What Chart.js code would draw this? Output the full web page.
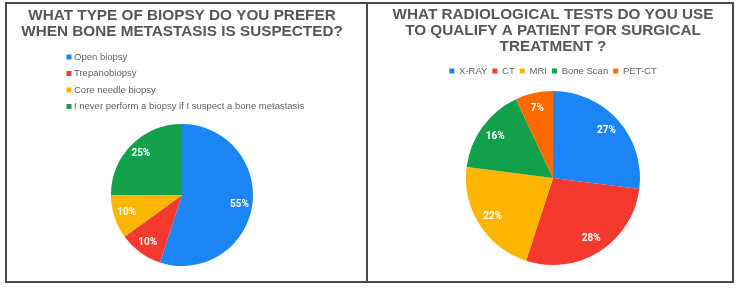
<!DOCTYPE html>
<html>
<head>
<meta charset="utf-8">
<script src="https://cdn.jsdelivr.net/npm/chart.js@4.4.0/dist/chart.umd.min.js"></script>
<style>
  body { margin: 0; width: 740px; height: 289px; background: #fff; position: relative; overflow: hidden; }
  .frame { position: absolute; left: 5px; top: 2px; width: 729px; height: 281px; box-sizing: border-box; border: 2px solid #4a4a4a; z-index: 2; pointer-events: none; }
  .divider { position: absolute; left: 366px; top: 2px; width: 2px; height: 281px; background: #4a4a4a; z-index: 2; }
  #biopsyChart { position: absolute; left: 0; top: 0; }
  #imagingChart { position: absolute; left: 372px; top: 0; }
</style>
</head>
<body>
<canvas id="biopsyChart" width="364" height="289"></canvas>
<canvas id="imagingChart" width="362" height="289"></canvas>
<div class="frame"></div>
<div class="divider"></div>
<script>
// left chart
const biopsyTitle = ['WHAT TYPE OF BIOPSY DO YOU PREFER', 'WHEN BONE METASTASIS IS SUSPECTED?'];
const biopsyLabels = ['Open biopsy', 'Trepanobiopsy', 'Core needle biopsy', 'I never perform a biopsy if I suspect a bone metastasis'];
const biopsyValues = [55, 10, 10, 25];

// right chart
const imagingTitle = ['WHAT RADIOLOGICAL TESTS DO YOU USE', 'TO QUALIFY A PATIENT FOR SURGICAL', 'TREATMENT ?'];
const imagingLabels = ['X-RAY', 'CT', 'MRI', 'Bone Scan', 'PET-CT'];
const imagingValues = [27, 28, 22, 16, 7];

const sliceColors = ['#1a85f3', '#f4392e', '#fdb500', '#12a04a', '#ff6a00'];
const textGray = '#575757';
const sans = "'Liberation Sans', Arial, sans-serif";

// white percentage labels inside slices
const pctLabels = {
  id: 'pctLabels',
  afterDatasetsDraw(chart) {
    const ctx = chart.ctx;
    const meta = chart.getDatasetMeta(0);
    const values = chart.data.datasets[0].data;
    ctx.save();
    ctx.font = "bold 10px Roboto, sans-serif";
    ctx.fillStyle = '#ffffff';
    ctx.textAlign = 'center';
    ctx.textBaseline = 'middle';
    meta.data.forEach((arc, i) => {
      const p = arc.getProps(['x', 'y', 'startAngle', 'endAngle', 'outerRadius'], true);
      const mid = (p.startAngle + p.endAngle) / 2;
      const r = p.outerRadius * 0.82;
      ctx.fillText(values[i] + '%', p.x + Math.cos(mid) * r, p.y + Math.sin(mid) * r);
    });
    ctx.restore();
  }
};

// stacked legend for the left chart (one item per row)
const stackedLegend = {
  id: 'stackedLegend',
  afterDraw(chart) {
    const ctx = chart.ctx;
    const colors = chart.data.datasets[0].backgroundColor;
    ctx.save();
    ctx.font = '9.5px ' + sans;
    ctx.textBaseline = 'middle';
    chart.data.labels.forEach((label, i) => {
      const y = 57 + i * 16.5;
      ctx.fillStyle = colors[i];
      ctx.fillRect(66.5, y - 2.5, 5, 5);
      ctx.fillStyle = '#5f5f5f';
      ctx.fillText(label, 74, y);
    });
    ctx.restore();
  }
};

new Chart(document.getElementById('biopsyChart'), {
  type: 'pie',
  data: {
    labels: biopsyLabels,
    datasets: [{
      data: biopsyValues,
      backgroundColor: sliceColors.slice(0, 4),
      borderWidth: 0
    }]
  },
  options: {
    responsive: false,
    animation: false,
    layout: { padding: { top: 0, bottom: 23, left: 0, right: 0 } },
    plugins: {
      title: {
        display: true,
        text: biopsyTitle,
        color: textGray,
        font: { family: sans, size: 15.3, weight: 'bold', lineHeight: '16px' },
        padding: { top: 8, bottom: 84 }
      },
      legend: { display: false },
      tooltip: { enabled: false }
    }
  },
  plugins: [pctLabels, stackedLegend]
});

new Chart(document.getElementById('imagingChart'), {
  type: 'pie',
  data: {
    labels: imagingLabels,
    datasets: [{
      data: imagingValues,
      backgroundColor: sliceColors,
      borderWidth: 0,
      radius: 87
    }]
  },
  options: {
    responsive: false,
    animation: false,
    layout: { padding: { top: 0, bottom: 18.75, left: 0, right: 0 } },
    plugins: {
      title: {
        display: true,
        text: imagingTitle,
        color: textGray,
        font: { family: sans, size: 15.3, weight: 'bold', lineHeight: '16px' },
        padding: { top: 7, bottom: 6.25 }
      },
      legend: {
        position: 'top',
        labels: {
          boxWidth: 5,
          boxHeight: 5,
          padding: 5,
          color: '#5f5f5f',
          font: { family: sans, size: 9.5 }
        }
      },
      tooltip: { enabled: false }
    }
  },
  plugins: [pctLabels]
});
</script>
</body>
</html>
